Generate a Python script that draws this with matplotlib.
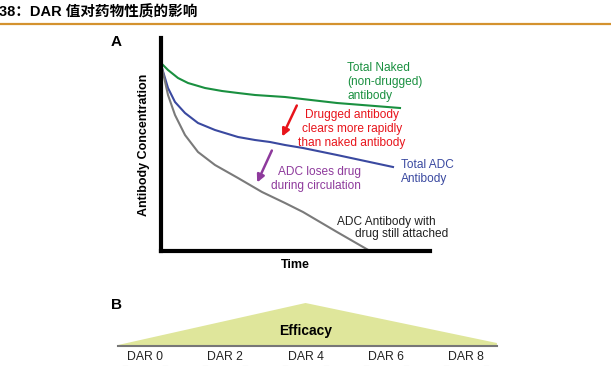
import matplotlib
matplotlib.use("Agg")
import matplotlib.pyplot as plt

plt.rcParams['font.family'] = ['Liberation Sans', 'Noto Sans CJK SC', 'DejaVu Sans']

# ---- data (arbitrary units) ----
naked_t = [0, 7, 17, 27, 44, 61, 77, 94, 109, 124, 176, 239]
naked_c = [188, 181, 173, 168, 163, 160, 158, 156, 155, 154, 148, 143]
total_adc_t = [0, 1, 7, 14, 24, 37, 54, 77, 94, 109, 124, 142, 176, 232]
total_adc_c = [188, 183, 163, 149, 138, 128, 121, 114, 111, 109, 106, 103, 96, 84]
attached_t = [0, 1, 7, 14, 24, 37, 54, 77, 101, 124, 142, 176, 209]
attached_c = [188, 183, 156, 136, 116, 99, 86, 73, 59, 48, 39, 19, 0]

dar_labels = ["DAR 0", "DAR 2", "DAR 4", "DAR 6", "DAR 8"]
dar_values = [0, 2, 4, 6, 8]
eff_x = [-0.67, 4.0, 8.77]
eff_y = [1, 43, 3]

title = "38：DAR 值对药物性质的影响"

W, H = 611, 366
fig = plt.figure(figsize=(W / 100, H / 100), dpi=100)

def rect(l, t, r, b):
    return [l / W, 1 - b / H, (r - l) / W, (b - t) / H]

# canvas for title / rule
bg = fig.add_axes([0, 0, 1, 1])
bg.set_xlim(0, W); bg.set_ylim(H, 0); bg.axis('off')
bg.text(-1, 12, title, fontsize=10.5, fontweight='bold', va='center', ha='left',
        family=['Liberation Sans', 'Noto Sans CJK SC'])
bg.plot([0, W], [24, 24], color='#d4922f', lw=1.6)
bg.text(111, 42, "A", fontsize=11, fontweight='bold', va='center', ha='left')
bg.text(111, 305, "B", fontsize=11, fontweight='bold', va='center', ha='left')

# ---- Panel A ----
L, T, R, B = 161, 38, 430, 251
ax = fig.add_axes(rect(L, T, R, B))
ax.set_xlim(0, R - L); ax.set_ylim(0, B - T)
for s in ['top', 'right']:
    ax.spines[s].set_visible(False)
for s in ['left', 'bottom']:
    ax.spines[s].set_linewidth(3)
ax.set_xticks([]); ax.set_yticks([])
ax.patch.set_alpha(0)

ax.plot(naked_t, naked_c, color='#1a9040', lw=1.5, solid_joinstyle='round')
ax.plot(total_adc_t, total_adc_c, color='#3a49a0', lw=1.5, solid_joinstyle='round')
ax.plot(attached_t, attached_c, color='#7a7a7a', lw=1.5, solid_joinstyle='round')

ax.set_ylabel("Antibody Concentration", fontsize=9, fontweight='bold', labelpad=8)
ax.set_xlabel("Time", fontsize=9, fontweight='bold', labelpad=6)

def P(px, py):
    return (px - L, B - py)

fs = 8.6
ls = 1.2
ax.text(*P(347, 82), "Total Naked\n(non-drugged)\nantibody", color='#1a9040',
        fontsize=fs, ha='left', va='center', linespacing=ls, clip_on=False)
ax.text(*P(352, 129), "Drugged antibody\nclears more rapidly\nthan naked antibody",
        color='#e8141b', fontsize=fs, ha='center', va='center', linespacing=ls, clip_on=False)
ax.text(*P(401, 172), "Total ADC\nAntibody", color='#3a49a0', fontsize=fs,
        ha='left', va='center', linespacing=ls, clip_on=False)
ax.text(*P(361, 179), "ADC loses drug\nduring circulation", color='#8e3a9c', fontsize=fs,
        ha='right', va='center', linespacing=ls, multialignment='right', clip_on=False)
ax.text(*P(337, 222), "ADC Antibody with", color='#222222', fontsize=fs,
        ha='left', va='center', clip_on=False)
ax.text(*P(355, 234), "drug still attached", color='#222222', fontsize=fs,
        ha='left', va='center', clip_on=False)

ax.annotate("", xy=P(281, 139), xytext=P(298, 103),
            arrowprops=dict(arrowstyle='-|>', color='#e8141b', lw=1.8, mutation_scale=11))
ax.annotate("", xy=P(256, 185), xytext=P(273, 148),
            arrowprops=dict(arrowstyle='-|>', color='#8e3a9c', lw=1.8, mutation_scale=11))

# ---- Panel B ----
bL, bT, bR, bB = 100, 295, 520, 366
axb = fig.add_axes(rect(bL, bT, bR, bB))
x0 = (bL - 145) / 40.125
x1 = (bR - 145) / 40.125
axb.set_xlim(x0, x1); axb.set_ylim(-20, 51)
axb.axis('off')
axb.fill(eff_x + [eff_x[-1], eff_x[0]], eff_y + [0, 0], color='#dfe69b', lw=0)
axb.plot([eff_x[0], eff_x[-1]], [0, 0], color='#777777', lw=1.5)
axb.text(4.0, 15, "Efficacy", fontsize=10, fontweight='bold', ha='center', va='center')
for v, lab in zip(dar_values, dar_labels):
    axb.text(v, -11, lab, fontsize=8.8, ha='center', va='center', color='#222222')
    for dx in (-0.5, 0.5):
        axb.plot([v + dx - 0.05, v + dx + 0.05], [-19.5, -19.5], color='#bbbbbb', lw=0.8)

fig.savefig("out.png", dpi=100)
